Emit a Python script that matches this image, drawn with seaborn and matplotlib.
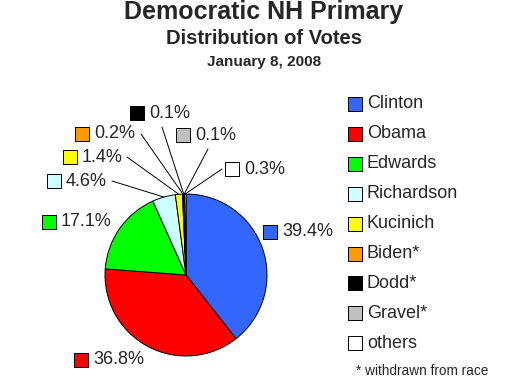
import numpy as np
import matplotlib
matplotlib.use("Agg")
import matplotlib.pyplot as plt
import seaborn as sns

# vote shares, Democratic NH primary, Jan 8 2008
candidates = ["Clinton", "Obama", "Edwards", "Richardson", "Kucinich",
              "Biden*", "Dodd*", "Gravel*", "others"]
shares = [39.4, 36.8, 17.1, 4.6, 1.4, 0.2, 0.1, 0.1, 0.3]
colors = ["#3366FF", "#FF0000", "#00FF00", "#CCFFFF", "#FFFF00",
          "#FF9900", "#000000", "#C0C0C0", "#FFFFFF"]

sns.set_style("white")
plt.rcParams["font.family"] = ["Liberation Sans", "DejaVu Sans"]

W, H = 530, 391
fig = plt.figure(figsize=(W / 100, H / 100), dpi=100)
ax = fig.add_axes([0, 0, 1, 1])

# work in pixel units, y measured from the top
def Y(y):
    return H - y

cx, cy, r = 186, 275, 81
wedges, _ = ax.pie(shares, colors=colors, startangle=90, counterclock=False,
                   center=(cx, Y(cy)), radius=r,
                   wedgeprops=dict(edgecolor="black", linewidth=0.7))
ax.set_xlim(0, W)
ax.set_ylim(0, H)
ax.set_aspect("equal")
ax.axis("off")

# label layout: square centre (px) and leader line end (None = no line)
label_pos = [(270, 232), (81, 360), (49, 222), (54, 181), (70, 157),
             (82, 134), (137, 113), (183, 135), (232, 169)]
line_end = [None, None, None, (112, 181), (127, 157),
            (141, 134), (162, 127), (208, 149), (222, 169)]

SQ = 88
for w, val, col, (sx, sy), le in zip(wedges, shares, colors, label_pos, line_end):
    if le is not None:
        ang = np.deg2rad((w.theta1 + w.theta2) / 2)
        ex, ey = cx + r * np.cos(ang), Y(cy) + r * np.sin(ang)
        ax.plot([ex, le[0]], [ey, Y(le[1])], color="black", lw=0.7)
    ax.scatter([sx], [Y(sy)], marker="s", s=SQ, color=col,
               edgecolor="black", linewidth=0.7, zorder=5)
    ax.text(sx + 12, Y(sy), f"{val:.1f}%", fontsize=13,
            va="center", ha="left")

# legend
for i, (name, col) in enumerate(zip(candidates, colors)):
    ly = 104 + 29.9 * i
    ax.scatter([355], [Y(ly)], marker="s", s=SQ, color=col,
               edgecolor="black", linewidth=0.7, zorder=5)
    ax.text(367, Y(ly), name, fontsize=13, va="center", ha="left")
ax.text(356, Y(371), "* withdrawn from race", fontsize=9.8,
        va="center", ha="left")

# titles
ax.text(264, Y(12), "Democratic NH Primary", fontsize=18,
        fontweight="bold", ha="center", va="center")
ax.text(264, Y(38), "Distribution of Votes", fontsize=14.5,
        fontweight="bold", ha="center", va="center")
ax.text(264, Y(62), "January 8, 2008", fontsize=11,
        fontweight="bold", ha="center", va="center")

fig.savefig("out.png", dpi=100)
